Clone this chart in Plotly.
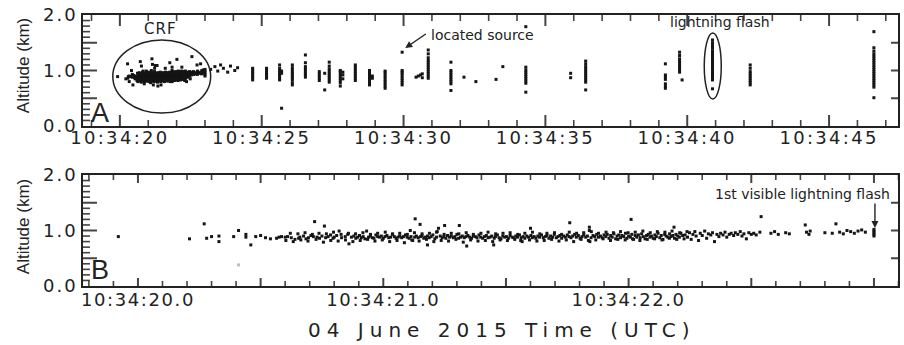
import plotly.graph_objects as go

# ---------------- data (seconds after 10:34:00 UTC, altitude in km) ----------------
# CRF sources (shown in both panels)
crf_t = [
    19.92, 20.21, 20.27, 20.28, 20.30, 20.33, 20.33, 20.39, 20.41, 20.44, 20.44, 20.46, 20.48, 20.50, 20.52, 20.54,
    20.565, 20.575, 20.585, 20.60, 20.61, 20.625, 20.64, 20.655, 20.66, 20.675, 20.685, 20.695, 20.705, 20.715, 20.72,
    20.73, 20.74, 20.75, 20.76, 20.765, 20.775, 20.785, 20.795, 20.80, 20.81, 20.82, 20.83, 20.845, 20.855, 20.86, 20.87,
    20.880, 20.888, 20.895, 20.903, 20.910, 20.918, 20.925, 20.932, 20.940, 20.947,
    20.955, 20.962, 20.970, 20.977, 20.985, 20.992, 21.000, 21.007, 21.015, 21.022,
    21.030, 21.037, 21.045, 21.052, 21.060, 21.067, 21.075, 21.082, 21.090, 21.097,
    21.105, 21.110, 21.113, 21.120, 21.128, 21.130, 21.135, 21.142, 21.150, 21.152,
    21.158, 21.165, 21.172, 21.180, 21.180, 21.187, 21.195, 21.202, 21.210, 21.217,
    21.220, 21.225, 21.232, 21.240, 21.247, 21.250, 21.255, 21.262, 21.270, 21.277,
    21.285, 21.292, 21.300, 21.307, 21.310, 21.315, 21.322, 21.330, 21.337, 21.340,
    21.345, 21.352, 21.360, 21.367, 21.375, 21.382, 21.390, 21.397,
    21.405, 21.412, 21.420, 21.427, 21.435, 21.442, 21.450, 21.452, 21.457, 21.465,
    21.472, 21.480, 21.487, 21.495, 21.502, 21.510, 21.517, 21.525, 21.532, 21.540,
    21.547, 21.555, 21.560, 21.562, 21.570, 21.577, 21.585, 21.592, 21.600, 21.602,
    21.607, 21.615, 21.622, 21.630, 21.637, 21.645, 21.652, 21.660, 21.667, 21.675,
    21.682, 21.690, 21.697, 21.705, 21.712, 21.720, 21.727, 21.735, 21.742, 21.750,
    21.757, 21.760, 21.765, 21.772, 21.780, 21.787, 21.795, 21.802, 21.810, 21.817,
    21.825, 21.832, 21.840, 21.840, 21.842, 21.847, 21.855, 21.862, 21.870, 21.877,
    21.885, 21.892, 21.900,
    21.907, 21.913, 21.920, 21.927, 21.933, 21.940, 21.947, 21.953, 21.960, 21.967,
    21.973, 21.980, 21.987, 21.993, 22.000, 22.007, 22.010, 22.013, 22.020, 22.027,
    22.033, 22.040, 22.047, 22.053, 22.060, 22.067, 22.073, 22.080, 22.087, 22.093,
    22.100, 22.107, 22.113, 22.120, 22.127, 22.133, 22.140, 22.147, 22.153, 22.160,
    22.167, 22.173, 22.180, 22.185, 22.187, 22.193, 22.200, 22.207, 22.213, 22.220,
    22.230, 22.240, 22.248, 22.255, 22.262, 22.270, 22.275, 22.285, 22.292, 22.300,
    22.310, 22.318, 22.325, 22.335, 22.342, 22.350, 22.360, 22.368, 22.375, 22.385,
    22.393, 22.400, 22.410, 22.418, 22.428, 22.435, 22.445, 22.455, 22.462, 22.470,
    22.480, 22.490, 22.500, 22.510, 22.520, 22.535, 22.540,
    22.580, 22.595, 22.610, 22.640, 22.655, 22.720, 22.725, 22.735, 22.740, 22.800,
    22.830, 22.845, 22.860, 22.875, 22.890, 22.905, 22.920, 22.935, 22.950, 22.965,
    23.000, 23.000, 23.000, 23.000, 23.000,
    # additional sources filling the upper and lower edges of the CRF band
    20.603, 20.621, 20.633, 20.652, 20.664, 20.681, 20.693, 20.711, 20.726, 20.738,
    20.756, 20.768, 20.786, 20.797, 20.816, 20.828, 20.846, 20.858, 20.876, 20.887,
    20.906, 20.917, 20.936, 20.948, 20.966, 20.977, 20.996, 21.008, 21.026, 21.038,
    21.056, 21.067, 21.086, 21.098, 21.116, 21.127, 21.146, 21.158, 21.176, 21.188,
    21.206, 21.217, 21.236, 21.248, 21.266, 21.277, 21.296, 21.308, 21.326, 21.338,
    21.356, 21.367, 21.386, 21.398, 21.416, 21.427, 21.446, 21.458, 21.476, 21.488,
    21.506, 21.517, 21.536, 21.548, 21.566, 21.577, 21.596, 21.608, 21.626, 21.638,
    21.656, 21.667, 21.686, 21.698, 21.716, 21.727, 21.746, 21.758, 21.776, 21.788,
    21.806, 21.817, 21.836, 21.848, 21.866, 21.877, 21.896, 21.908, 21.926, 21.938,
    21.956, 21.967, 21.986, 21.998, 22.016, 22.027, 22.046, 22.058, 22.076, 22.088,
    22.106, 22.117, 22.136, 22.148, 22.166, 22.177, 22.196, 22.208, 22.226, 22.238,
]
crf_alt = [
    0.89, 0.85, 1.12, 0.86, 0.89, 0.90, 0.80, 0.89, 1.00, 0.93, 0.88, 0.74, 0.89, 0.91, 0.87, 0.85,
    0.86, 0.88, 0.89, 0.88, 0.89, 0.87, 0.84, 0.86, 0.88, 0.90, 0.85, 0.87, 0.91, 0.89, 1.16,
    0.88, 0.86, 0.90, 1.08, 0.87, 0.89, 0.92, 0.86, 0.88, 0.91, 0.99, 0.87, 0.89, 0.93, 0.76, 0.88,
    0.90, 0.86, 0.88, 0.91, 0.87, 0.89, 0.85, 0.99, 0.88, 0.90,
    0.87, 0.86, 0.92, 0.89, 0.88, 0.90, 0.86, 0.89, 0.91, 0.87,
    0.88, 0.93, 0.89, 0.86, 0.88, 0.90, 0.87, 0.89, 0.92, 0.88,
    0.86, 1.00, 0.89, 0.82, 0.88, 1.21, 0.90, 0.87, 1.11, 0.89,
    0.91, 0.86, 0.88, 0.74, 0.90, 0.87, 0.89, 0.92, 0.85, 0.88,
    0.98, 1.04, 0.90, 0.87, 0.89, 1.09, 0.86, 0.91, 0.88, 0.90,
    0.87, 0.89, 0.93, 0.86, 1.09, 0.88, 0.90, 0.87, 0.89, 0.72,
    0.91, 0.88, 0.86, 0.90, 0.89, 0.87, 0.92, 0.88,
    0.86, 0.89, 0.91, 0.87, 0.88, 0.90, 0.74, 0.86, 0.89, 0.92,
    0.87, 0.85, 0.90, 0.88, 0.89, 0.86, 0.91, 0.88, 0.87, 0.90,
    0.88, 0.92, 0.82, 0.87, 0.89, 0.86, 0.90, 0.88, 1.04, 0.91,
    0.87, 0.89, 0.86, 0.90, 0.88, 0.92, 0.87, 0.89, 0.91, 0.86,
    0.90, 0.88, 0.93, 0.87, 0.89, 0.91, 0.86, 0.90, 0.88, 0.92,
    0.89, 1.14, 0.87, 0.90, 0.93, 0.88, 0.91, 0.86, 0.89, 0.92,
    0.88, 0.90, 1.06, 1.00, 0.80, 0.87, 0.91, 0.89, 0.93, 0.88,
    0.90, 0.87, 0.92,
    0.89, 0.93, 0.86, 0.91, 0.88, 0.94, 0.85, 0.90, 0.92, 0.87,
    0.91, 0.89, 0.95, 0.86, 0.90, 0.88, 1.20, 0.93, 0.84, 0.91,
    0.88, 0.92, 0.87, 0.94, 0.89, 0.85, 0.91, 0.93, 0.88, 0.90,
    0.86, 0.92, 0.89, 0.95, 0.87, 0.91, 0.84, 0.93, 0.90, 0.88,
    0.94, 0.89, 0.91, 1.06, 0.86, 0.93, 0.90, 0.88, 0.95, 0.91,
    0.92, 0.88, 0.96, 0.84, 0.93, 0.98, 0.90, 0.82, 0.95, 0.91,
    0.99, 0.86, 0.94, 0.92, 0.96, 0.80, 0.93, 0.89, 0.95, 0.92,
    0.97, 0.88, 0.93, 0.95, 0.91, 0.96, 0.93, 0.98, 0.90, 0.94,
    0.85, 0.96, 0.93, 0.95, 0.92, 0.97, 1.25,
    0.95, 0.98, 0.93, 0.96, 0.94, 1.10, 0.97, 0.93, 0.99, 0.96,
    0.95, 1.12, 0.97, 0.94, 1.00, 0.98, 0.95, 0.99, 1.01, 0.97,
    0.90, 0.93, 0.96, 0.99, 1.02,
    # additional sources
    0.82, 0.95, 0.80, 0.94, 0.83, 0.96, 0.81, 0.93, 0.84, 0.95,
    0.79, 0.94, 0.82, 0.97, 0.81, 0.93, 0.83, 0.95, 0.80, 0.94,
    0.82, 0.96, 0.84, 0.93, 0.81, 0.95, 0.83, 0.97, 0.80, 0.94,
    0.82, 0.95, 0.78, 0.93, 0.83, 0.96, 0.81, 0.94, 0.84, 0.95,
    0.80, 0.97, 0.82, 0.93, 0.81, 0.95, 0.84, 0.94, 0.79, 0.96,
    0.83, 0.93, 0.81, 0.95, 0.82, 0.97, 0.80, 0.94, 0.83, 0.95,
    0.82, 0.96, 0.84, 0.93, 0.80, 0.95, 0.83, 0.97, 0.81, 0.94,
    0.82, 0.95, 0.84, 0.96, 0.81, 0.93, 0.83, 0.97, 0.80, 0.95,
    0.84, 0.96, 0.82, 0.98, 0.83, 0.95, 0.85, 0.97, 0.82, 0.96,
    0.84, 0.98, 0.83, 0.96, 0.85, 0.97, 0.82, 0.99, 0.84, 0.96,
    0.85, 0.98, 0.83, 0.97, 0.86, 0.99, 0.84, 0.96, 0.85, 0.98,
]
# faint (grey) source in panel B
grey_t = [20.41]
grey_alt = [0.38]

# scattered sources just after the CRF (panel A)
post_t = [23.20, 23.35, 23.45, 23.55, 23.65, 23.80, 23.90, 24.05, 24.15]
post_alt = [1.02, 1.07, 0.99, 1.10, 1.04, 0.97, 1.08, 1.00, 1.05]

# later discharge events (panel A): time of each event and its source altitudes
flash_t = [24.68, 25.17, 25.63, 25.70, 26.08, 26.54, 27.03, 27.22, 27.38, 27.77, 27.86, 28.30,
           28.80, 28.90, 29.35, 29.95, 30.44, 30.52, 30.60, 30.66, 30.87, 31.67, 32.13, 32.55,
           33.26, 33.50, 34.31, 35.89, 36.42, 39.23, 39.73, 39.82, 40.89, 42.22, 46.58]
flash_alt = [
    [0.83, 0.87, 0.90, 0.94, 0.97, 1.01, 1.04],
    [0.86, 0.89, 0.93, 0.96, 1.00, 1.04],
    [0.83, 0.86, 0.90, 0.93, 0.97, 1.00, 1.04, 1.10],
    [0.32, 0.95, 0.99],
    [0.74, 0.78, 0.83, 0.87, 0.90, 0.94, 0.97, 1.01, 1.05, 1.10],
    [0.88, 0.92, 0.95, 0.99, 1.03, 1.07, 1.14, 1.28],
    [0.82, 0.86, 0.90, 0.94, 0.98],
    [0.65, 0.95],
    [0.79, 0.83, 0.87, 0.91, 0.95, 0.99, 1.03, 1.08, 1.15],
    [0.72, 0.78, 0.82, 0.86, 0.90, 0.94, 0.98, 1.00],
    [0.85, 0.92, 0.97],
    [0.82, 0.86, 0.90, 0.94, 0.98, 1.02, 1.06, 1.10],
    [0.74, 0.78, 0.82, 0.86, 0.90, 0.94, 0.97, 1.00],
    [0.86, 0.90],
    [0.68, 0.72, 0.76, 0.80, 0.84, 0.88, 0.92, 0.96, 0.99],
    [0.74, 0.78, 0.82, 0.86, 0.90, 0.94, 0.97, 1.00, 1.33],
    [0.88],
    [0.90],
    [0.92],
    [0.94, 0.87],
    [0.86, 0.90, 0.94, 0.98, 1.02, 1.06, 1.10, 1.14, 1.18, 1.23, 1.30, 1.37],
    [0.64, 0.76, 0.80, 0.84, 0.88, 0.92, 0.96, 1.00, 1.15],
    [0.88],
    [0.80],
    [0.84],
    [1.07],
    [0.61, 0.77, 0.81, 0.85, 0.89, 0.93, 0.97, 1.01, 1.06, 1.79],
    [0.87, 0.95],
    [0.65, 0.79, 0.83, 0.87, 0.91, 0.95, 0.99, 1.03, 1.07, 1.12, 1.17],
    [0.68, 0.72, 0.76, 0.84, 0.88, 0.92, 1.12],
    [0.97, 1.01, 1.05, 1.09, 1.13, 1.17, 1.21, 1.27, 1.33],
    [0.83],
    [0.67, 0.83, 0.87, 0.91, 0.95, 0.99, 1.03, 1.07, 1.11, 1.15, 1.19, 1.23, 1.27, 1.31, 1.35,
     1.40, 1.45, 1.50, 1.55],
    [0.74, 0.78, 0.82, 0.86, 0.90, 0.94, 0.98, 1.04, 1.10],
    [0.51, 0.70, 0.74, 0.78, 0.82, 0.86, 0.90, 0.94, 0.98, 1.02, 1.06, 1.10, 1.14, 1.18, 1.22,
     1.26, 1.30, 1.35, 1.41, 1.70],
]

# tick labels
top_tickvals = [20, 25, 30, 35, 40, 45]
top_ticklabels = ["10:34:20", "10:34:25", "10:34:30", "10:34:35", "10:34:40", "10:34:45"]
bot_tickvals = [20.0, 20.5, 21.0, 21.5, 22.0, 22.5, 23.0]
bot_ticklabels = ["10:34:20.0", "", "10:34:21.0", "", "10:34:22.0", "", ""]
y_tickvals = [0, 0.5, 1.0, 1.5, 2.0]
y_ticklabels = ["0.0", "", "1.0", "", "2.0"]

# ---------------- figure ----------------
INK = "#222222"
TICK = "#444444"
TOP_RANGE = [18.70, 47.43]
BOT_RANGE = [19.776, 23.098]
Y_RANGE = [0, 2.0]
PLOT_W, PANEL_H = 817.0, 111.0   # plot-area width and panel height in px


def spaced(s, px):
    return f'<span style="letter-spacing:{px}px">{s}</span>' if s else s


top_x = list(crf_t) + list(post_t)
top_y = list(crf_alt) + list(post_alt)
for t, alts in zip(flash_t, flash_alt):
    top_x += [t] * len(alts)
    top_y += alts

mk = dict(symbol="square", size=3, color="#151515", line=dict(width=0))

fig = go.Figure()


# ---- inward tick marks (major + minor, mirrored), lengths given in px ----
def tick_paths(xrng, yrng, xmaj, xmin, ymaj, ymin, xmaj_px, xmin_px, ymaj_px, ymin_px, yright_px):
    ppx = PLOT_W / (xrng[1] - xrng[0])
    ppy = PANEL_H / (yrng[1] - yrng[0])
    maj_x, maj_y, min_x, min_y = [], [], [], []
    for v in xmaj:
        d = xmaj_px / ppy
        maj_x += [v, v, None, v, v, None]
        maj_y += [yrng[0], yrng[0] + d, None, yrng[1], yrng[1] - d, None]
    for v in xmin:
        d = xmin_px / ppy
        min_x += [v, v, None, v, v, None]
        min_y += [yrng[0], yrng[0] + d, None, yrng[1], yrng[1] - d, None]
    for v in ymaj:
        d, dr = ymaj_px / ppx, yright_px / ppx
        maj_x += [xrng[0], xrng[0] + d, None, xrng[1], xrng[1] - dr, None]
        maj_y += [v, v, None, v, v, None]
    for v in ymin:
        d = ymin_px / ppx
        min_x += [xrng[0], xrng[0] + d, None]
        min_y += [v, v, None]
    return maj_x, maj_y, min_x, min_y


top_minor = [v for v in range(19, 48) if v not in top_tickvals]
bot_minor = [round(19.8 + 0.1 * i, 1) for i in range(34) if round(19.8 + 0.1 * i, 1) not in bot_tickvals]
y_major_inner = [0.5, 1.0, 1.5]
y_minor = [round(0.1 * i, 1) for i in range(1, 20) if round(0.1 * i, 1) not in y_major_inner]

for (xa, ya, xr, xmaj, xmin, xmaj_px, xmin_px) in [
        ("x", "y", TOP_RANGE, top_tickvals, top_minor, 11, 6),
        ("x2", "y2", BOT_RANGE, bot_tickvals, bot_minor, 8, 5)]:
    mx, my, nx, ny = tick_paths(xr, Y_RANGE, xmaj, xmin, y_major_inner, y_minor,
                                xmaj_px, xmin_px, 14, 7, 7)
    fig.add_trace(go.Scatter(x=mx, y=my, mode="lines", line=dict(color=TICK, width=2),
                             xaxis=xa, yaxis=ya, showlegend=False, hoverinfo="skip",
                             connectgaps=False))
    fig.add_trace(go.Scatter(x=nx, y=ny, mode="lines", line=dict(color=TICK, width=1.6),
                             xaxis=xa, yaxis=ya, showlegend=False, hoverinfo="skip",
                             connectgaps=False))

fig.add_trace(go.Scatter(x=top_x, y=top_y, mode="markers", marker=mk,
                         xaxis="x", yaxis="y", showlegend=False, hoverinfo="skip"))
fig.add_trace(go.Scatter(x=crf_t, y=crf_alt, mode="markers", marker=mk,
                         xaxis="x2", yaxis="y2", showlegend=False, hoverinfo="skip"))
fig.add_trace(go.Scatter(x=grey_t, y=grey_alt, mode="markers",
                         marker=dict(symbol="square", size=3, color="#bdbdbd", line=dict(width=0)),
                         xaxis="x2", yaxis="y2", showlegend=False, hoverinfo="skip"))

tickfont = dict(family="DejaVu Sans", size=18, color=INK)
common = dict(showline=True, linecolor=INK, linewidth=1.5, mirror=True, ticks="",
              showgrid=False, zeroline=False, tickfont=tickfont, fixedrange=True)

yax = dict(common, range=Y_RANGE, tickmode="array", tickvals=y_tickvals,
           ticktext=[spaced(s, 2) for s in y_ticklabels])

fig.update_layout(
    width=904, height=345,
    margin=dict(l=83, r=4, t=15, b=59),
    paper_bgcolor="white", plot_bgcolor="white",
    xaxis=dict(common, domain=[0, 1], anchor="y", range=TOP_RANGE, tickmode="array",
               tickvals=top_tickvals, ticktext=[spaced(s, 2.3) for s in top_ticklabels],
               ticklabelstandoff=-5),
    yaxis=dict(yax, domain=[0.5904, 1.0], anchor="x"),
    xaxis2=dict(common, domain=[0, 1], anchor="y2", range=BOT_RANGE, tickmode="array",
                tickvals=bot_tickvals, ticktext=[spaced(s, 1.6) for s in bot_ticklabels],
                ticklabelstandoff=-3),
    yaxis2=dict(yax, domain=[0, 0.4096], anchor="x2"),
)

ann_font = dict(family="DejaVu Sans", size=14, color=INK)
annotations = [
    # axis titles
    dict(text="Altitude (km)", xref="paper", yref="paper", x=-0.0734, y=0.8118, textangle=-90,
         showarrow=False, font=dict(family="Liberation Sans", size=17, color=INK),
         xanchor="center", yanchor="middle"),
    dict(text="Altitude (km)", xref="paper", yref="paper", x=-0.0734, y=0.2177, textangle=-90,
         showarrow=False, font=dict(family="Liberation Sans", size=17, color=INK),
         xanchor="center", yanchor="middle"),
    dict(text=spaced("04 June 2015 Time (UTC)", 6), xref="paper", yref="paper", x=0.5135, y=-0.162,
         showarrow=False, font=dict(family="DejaVu Sans", size=20, color=INK),
         xanchor="center", yanchor="middle"),
    # panel letters
    dict(text="A", xref="paper", yref="paper", x=0.0208, y=0.640, showarrow=False,
         font=dict(family="Liberation Sans", size=27, color=INK), xanchor="center", yanchor="middle"),
    dict(text="B", xref="paper", yref="paper", x=0.0208, y=0.059, showarrow=False,
         font=dict(family="Liberation Sans", size=27, color=INK), xanchor="center", yanchor="middle"),
    # panel A labels
    dict(text=spaced("CRF", 1), xref="x", yref="y", x=21.44, y=1.75, showarrow=False,
         font=dict(family="DejaVu Sans", size=15, color=INK), xanchor="center", yanchor="middle"),
    dict(text="located source", xref="x", yref="y", x=30.90, y=1.64, showarrow=False, font=ann_font,
         xanchor="left", yanchor="middle"),
    dict(text="", xref="x", yref="y", x=30.06, y=1.405, ax=22, ay=-15, showarrow=True,
         arrowhead=2, arrowsize=1, arrowwidth=1.4, arrowcolor=INK),
    dict(text="lightning flash", xref="x", yref="y", x=41.17, y=1.87, showarrow=False, font=ann_font,
         xanchor="center", yanchor="middle"),
    # panel B labels
    dict(text="1st visible lightning flash", xref="x2", yref="y2", x=22.71, y=1.66, showarrow=False,
         font=ann_font, xanchor="center", yanchor="middle"),
    dict(text="", xref="x2", yref="y2", x=23.004, y=1.045, ax=0, ay=-26, showarrow=True,
         arrowhead=2, arrowsize=1, arrowwidth=1.4, arrowcolor=INK),
]
fig.update_layout(annotations=annotations)

fig.update_layout(shapes=[
    dict(type="circle", xref="x", yref="y", x0=19.75, x1=23.20, y0=0.234, y1=1.55,
         line=dict(color=INK, width=1.5)),
    dict(type="circle", xref="x", yref="y", x0=40.60, x1=41.20, y0=0.486, y1=1.676,
         line=dict(color=INK, width=1.5)),
])

fig.write_html("out.html")
